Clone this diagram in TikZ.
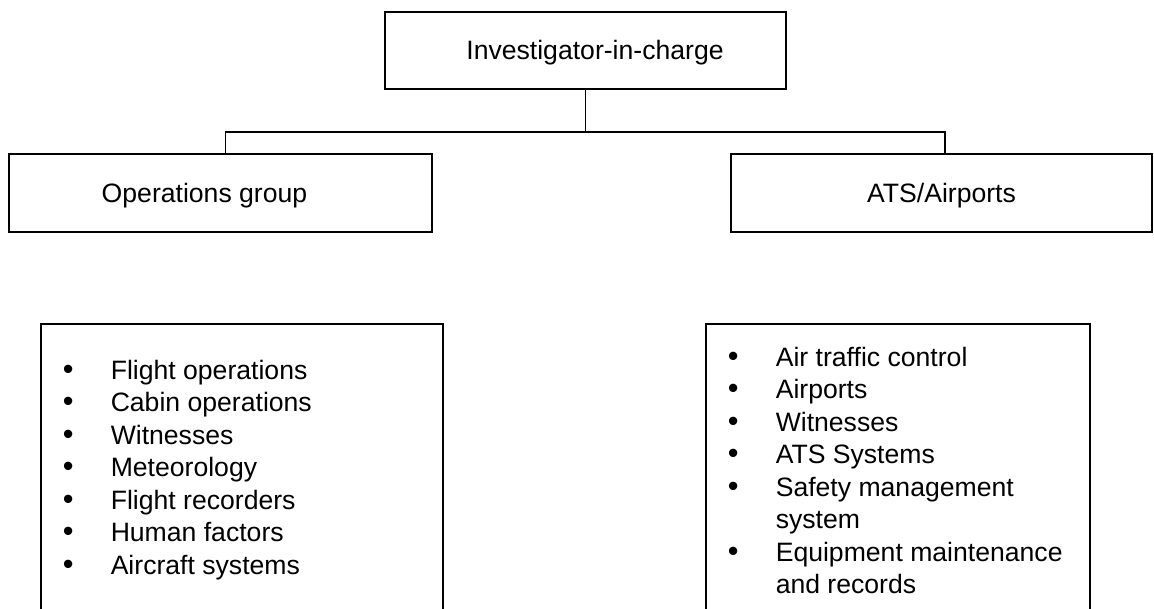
\documentclass[tikz,border=0pt]{standalone}
\usepackage{fontspec}
\setmainfont{Liberation Sans}
\usepackage{array}
\usetikzlibrary{positioning}
\tikzset{every picture/.style={line width=1.5pt}}

\newcommand{\orgfont}{\fontsize{26.6}{32.5}\selectfont}
\newcolumntype{L}{>{\raggedright\arraybackslash}p{300pt}}
\newcommand{\bitem}[1]{\scalebox{1.15}{\textbullet} & #1\\}

\tikzset{
  box/.style={draw,line width=2pt,minimum height=77,inner sep=0pt,font=\orgfont,text height=19pt,text depth=0pt},
  textshift/.style={execute at begin node={\hspace*{#1}}},
  listframe/.style={draw,line width=2pt,minimum height=420,anchor=north west,inner sep=0pt},
  listtext/.style={anchor=base west,inner sep=0pt,font=\orgfont},
}

\begin{document}
\begin{tikzpicture}[x=1pt,y=-1pt]
    \useasboundingbox (0,0) rectangle (1154,608);

    % Head of the investigation
    \node[box,minimum width=401,textshift=19pt] (ic) at (585.5,50) {Investigator-in-charge};

    % Groups
    \node[box,minimum width=423,minimum height=78,textshift=-32pt] (ops) at (220.5,193) {Operations group};
    \node[box,minimum width=421,minimum height=78] (ats) at (941.5,193) {ATS/Airports};

    % Connectors
    \coordinate (bus) at (585.5,132);
    \draw (ic.south) -- (bus);
    \draw ([xshift=5pt]ops.north) |- (bus) -| ([xshift=3.5pt]ats.north);

    % Lists of the groups
    \node[listframe,minimum width=402] (opsframe) at (40,323) {};
    \node[listtext] (opslist) at (62,379) {\begin{tabular}[t]{@{}p{48pt}@{}L@{}}
        \bitem{Flight operations}
        \bitem{Cabin operations}
        \bitem{Witnesses}
        \bitem{Meteorology}
        \bitem{Flight recorders}
        \bitem{Human factors}
        \bitem{Aircraft systems}
      \end{tabular}};

    \node[listframe,minimum width=384] (atsframe) at (705,323) {};
    \node[listtext] (atslist) at (727,366) {\begin{tabular}[t]{@{}p{48pt}@{}L@{}}
        \bitem{Air traffic control}
        \bitem{Airports}
        \bitem{Witnesses}
        \bitem{ATS Systems}
        \bitem{Safety management system}
        \bitem{Equipment maintenance and records}
      \end{tabular}};
\end{tikzpicture}
\end{document}
